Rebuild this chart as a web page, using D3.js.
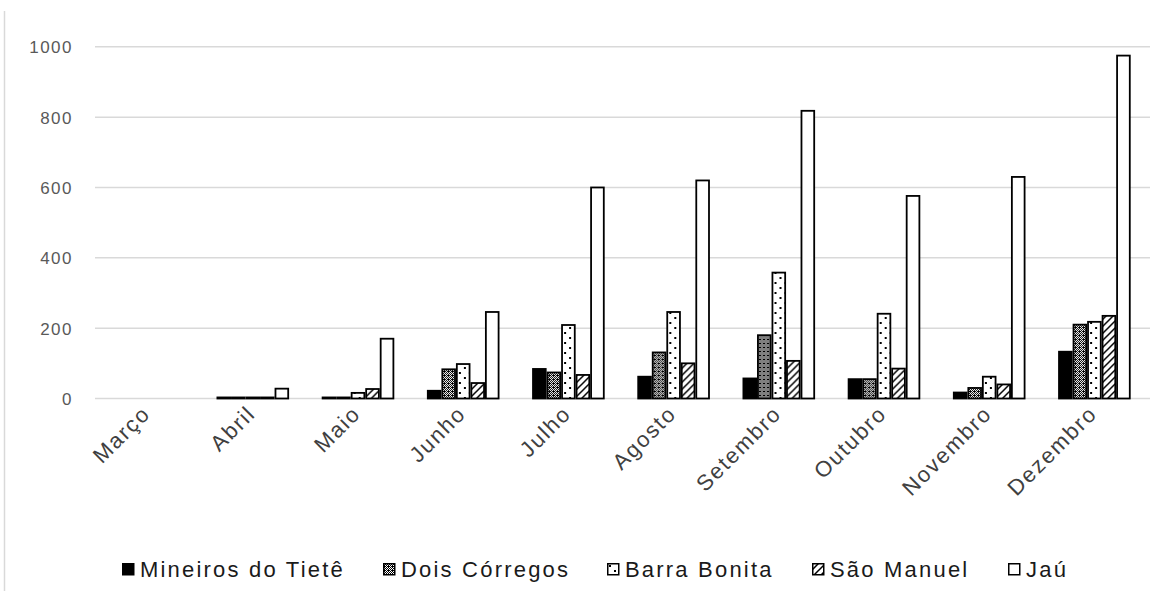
<!DOCTYPE html>
<html>
<head>
<meta charset="utf-8">
<script src="https://cdn.jsdelivr.net/npm/d3@7"></script>
<style>
  html, body { margin: 0; padding: 0; background: #fff; }
  svg { display: block; }
</style>
</head>
<body>
<svg id="chart" width="1164" height="591"></svg>
<script>
// Monthly values per municipality
const months = ["Março", "Abril", "Maio", "Junho", "Julho", "Agosto", "Setembro", "Outubro", "Novembro", "Dezembro"];
const seriesNames = ["Mineiros do Tietê", "Dois Córregos", "Barra Bonita", "São Manuel", "Jaú"];
const mineirosDoTiete = [0, 3, 3, 22, 84, 62, 57, 55, 17, 133];
const doisCorregos    = [0, 3, 3, 83, 74, 131, 180, 55, 30, 210];
const barraBonita     = [0, 3, 16, 98, 209, 246, 358, 241, 62, 218];
const saoManuel       = [0, 3, 27, 44, 67, 100, 107, 85, 40, 235];
const jau             = [0, 28, 170, 246, 600, 620, 818, 576, 630, 975];
const yTicks = [0, 200, 400, 600, 800, 1000];

const seriesValues = [mineirosDoTiete, doisCorregos, barraBonita, saoManuel, jau];

const svg = d3.select("#chart");
const defs = svg.append("defs");

// Fill patterns, one per series
// dense dotted texture
const pDense = defs.append("pattern").attr("id", "pat-dense")
  .attr("patternUnits", "userSpaceOnUse").attr("width", 4).attr("height", 4);
pDense.append("rect").attr("width", 4).attr("height", 4).attr("fill", "#000");
[[0,0],[2,0],[1,1],[0,2],[2,2],[3,3],[3,1]].forEach(([x,y]) =>
  pDense.append("rect").attr("x", x).attr("y", y).attr("width", 1).attr("height", 1).attr("fill", "#fff"));

// sparse dots
const pDots = defs.append("pattern").attr("id", "pat-dots")
  .attr("patternUnits", "userSpaceOnUse").attr("width", 10).attr("height", 10);
pDots.append("rect").attr("width", 10).attr("height", 10).attr("fill", "#fff");
pDots.append("rect").attr("x", 2).attr("y", 2).attr("width", 2).attr("height", 2).attr("fill", "#000");
pDots.append("rect").attr("x", 7).attr("y", 7).attr("width", 2).attr("height", 2).attr("fill", "#000");

// upward diagonal hatch
const pHatch = defs.append("pattern").attr("id", "pat-hatch")
  .attr("patternUnits", "userSpaceOnUse").attr("width", 7).attr("height", 7);
pHatch.append("rect").attr("width", 7).attr("height", 7).attr("fill", "#fff");
pHatch.append("path").attr("d", "M-1,8 L8,-1 M-4,4 L4,-4 M3,11 L11,3")
  .attr("stroke", "#000").attr("stroke-width", 1.5);

const fills = ["#000", "url(#pat-dense)", "url(#pat-dots)", "url(#pat-hatch)", "#fff"];

// Scales
const x0 = d3.scaleBand().domain(months).range([95, 1147]).paddingInner(0.31).paddingOuter(0.155);
const x1 = d3.scaleBand().domain(seriesNames).range([0, x0.bandwidth()]).padding(0);
const y = d3.scaleLinear().domain([0, 1000]).range([398.5, 46.8]);

// Chart area left border
svg.append("line").attr("x1", 4.5).attr("x2", 4.5).attr("y1", 11).attr("y2", 591)
  .attr("stroke", "#d9d9d9").attr("stroke-width", 1.5);

// Gridlines
svg.append("g").selectAll("line").data(yTicks).join("line")
  .attr("x1", 95).attr("x2", 1150)
  .attr("y1", d => y(d)).attr("y2", d => y(d))
  .attr("stroke", "#d9d9d9").attr("stroke-width", 1.5);

// Y axis labels
const yAxis = d3.axisLeft(y).tickValues(yTicks).tickSize(0).tickPadding(0).tickFormat(d3.format("d"));
const gy = svg.append("g").attr("transform", "translate(73,0)").call(yAxis);
gy.select(".domain").remove();
gy.selectAll("text")
  .attr("font-family", "Liberation Sans, Arial, sans-serif")
  .attr("font-size", 17).attr("letter-spacing", 1.5)
  .attr("fill", "#595959").attr("dy", "0.35em");

// Bars
const groups = svg.append("g").selectAll("g").data(months).join("g")
  .attr("transform", d => `translate(${x0(d)},0)`);

groups.selectAll("rect")
  .data((m, i) => seriesNames.map((s, j) => ({ s, j, v: seriesValues[j][i] })).filter(d => d.v > 0))
  .join("rect")
  .attr("x", d => x1(d.s) + 0.9)
  .attr("width", x1.bandwidth() - 1.8)
  .attr("y", d => y(d.v))
  .attr("height", d => y(0) - y(d.v))
  .attr("fill", d => fills[d.j])
  .attr("stroke", "#000").attr("stroke-width", 1.8);

// X axis labels (rotated)
const xAxis = d3.axisBottom(x0).tickSize(0).tickPadding(0);
const gx = svg.append("g").attr("transform", "translate(0,415)").call(xAxis);
gx.select(".domain").remove();
gx.selectAll("text")
  .attr("font-family", "Liberation Sans, Arial, sans-serif")
  .attr("font-size", 22).attr("letter-spacing", 1.8)
  .attr("fill", "#404040")
  .attr("text-anchor", "end")
  .attr("dy", 0)
  .attr("transform", "translate(4,0) rotate(-45)");

// Legend
const legendX = [122, 383, 607, 812, 1008];
const legend = svg.append("g").selectAll("g").data(seriesNames).join("g")
  .attr("transform", (d, i) => `translate(${legendX[i]},563)`);
legend.append("rect").attr("x", 0.75).attr("y", 0.75).attr("width", 11).attr("height", 11)
  .attr("fill", (d, i) => fills[i]).attr("stroke", "#000").attr("stroke-width", 1.5);
legend.append("text").attr("x", 18).attr("y", 6.5).attr("dy", "0.35em")
  .attr("font-family", "Liberation Sans, Arial, sans-serif")
  .attr("font-size", 22).attr("letter-spacing", 2.2)
  .attr("fill", "#1a1a1a")
  .text(d => d);
</script>
</body>
</html>
